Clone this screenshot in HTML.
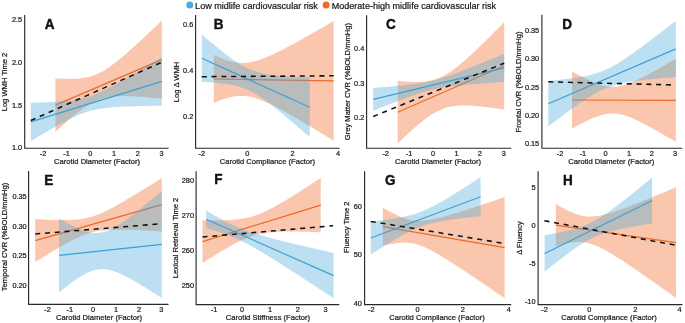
<!DOCTYPE html>
<html><head><meta charset="utf-8"><style>
html,body{margin:0;padding:0;background:#fff;}
body{width:685px;height:323px;overflow:hidden;}
svg{display:block;font-family:"Liberation Sans",sans-serif;filter:blur(0.4px);}
text{stroke:#1a1a1a;stroke-width:0.22px;}
</style></head><body>
<svg width="685" height="323" viewBox="0 0 685 323">
<rect width="685" height="323" fill="#fff"/>
<circle cx="189.8" cy="5.0" r="3.5" fill="rgb(72,170,222)"/>
<text x="195.1" y="8.5" font-size="9.05" fill="#1a1a1a">Low midlife cardiovascular risk</text>
<circle cx="326.1" cy="5.0" r="3.5" fill="rgb(240,105,40)"/>
<text x="331.7" y="8.5" font-size="9.05" fill="#1a1a1a">Moderate-high midlife cardiovascular risk</text>
<g id="pA"><path d="M55.40,78.40 L57.20,78.51 L59.01,78.60 L60.81,78.68 L62.61,78.75 L64.42,78.81 L66.22,78.85 L68.02,78.87 L69.83,78.87 L71.63,78.85 L73.43,78.81 L75.24,78.74 L77.04,78.63 L78.84,78.49 L80.65,78.31 L82.45,78.09 L84.25,77.81 L86.06,77.49 L87.86,77.10 L89.66,76.65 L91.47,76.13 L93.27,75.54 L95.07,74.87 L96.88,74.13 L98.68,73.31 L100.48,72.41 L102.29,71.44 L104.09,70.39 L105.89,69.28 L107.70,68.11 L109.50,66.88 L111.31,65.59 L113.11,64.26 L114.91,62.89 L116.72,61.47 L118.52,60.03 L120.32,58.55 L122.13,57.05 L123.93,55.52 L125.73,53.97 L127.54,52.40 L129.34,50.81 L131.14,49.21 L132.95,47.59 L134.75,45.96 L136.55,44.32 L138.36,42.67 L140.16,41.01 L141.96,39.34 L143.77,37.67 L145.57,35.98 L147.37,34.30 L149.18,32.60 L150.98,30.90 L152.78,29.20 L154.59,27.49 L156.39,25.77 L158.19,24.06 L160.00,22.34 L161.80,20.61 L161.80,98.59 L160.00,98.41 L158.19,98.23 L156.39,98.05 L154.59,97.88 L152.78,97.72 L150.98,97.55 L149.18,97.40 L147.37,97.24 L145.57,97.10 L143.77,96.96 L141.96,96.82 L140.16,96.70 L138.36,96.58 L136.55,96.47 L134.75,96.37 L132.95,96.29 L131.14,96.21 L129.34,96.15 L127.54,96.11 L125.73,96.08 L123.93,96.07 L122.13,96.09 L120.32,96.12 L118.52,96.19 L116.72,96.29 L114.91,96.42 L113.11,96.58 L111.31,96.79 L109.50,97.05 L107.70,97.36 L105.89,97.73 L104.09,98.16 L102.29,98.66 L100.48,99.23 L98.68,99.87 L96.88,100.60 L95.07,101.39 L93.27,102.27 L91.47,103.22 L89.66,104.25 L87.86,105.34 L86.06,106.49 L84.25,107.71 L82.45,108.98 L80.65,110.30 L78.84,111.66 L77.04,113.06 L75.24,114.50 L73.43,115.97 L71.63,117.46 L69.83,118.99 L68.02,120.53 L66.22,122.10 L64.42,123.68 L62.61,125.28 L60.81,126.89 L59.01,128.51 L57.20,130.15 L55.40,131.80 Z" fill="rgb(242,107,43)" fill-opacity="0.38"/><line x1="55.4" y1="105.1" x2="161.8" y2="59.6" stroke="#ec6a2c" stroke-width="1.2"/><path d="M30.80,102.74 L33.02,102.69 L35.24,102.64 L37.46,102.58 L39.68,102.52 L41.90,102.45 L44.12,102.37 L46.34,102.29 L48.56,102.20 L50.78,102.10 L53.00,101.99 L55.22,101.87 L57.44,101.74 L59.66,101.59 L61.88,101.42 L64.11,101.23 L66.33,101.02 L68.55,100.79 L70.77,100.52 L72.99,100.22 L75.21,99.88 L77.43,99.49 L79.65,99.05 L81.87,98.56 L84.09,98.01 L86.31,97.39 L88.53,96.71 L90.75,95.97 L92.97,95.16 L95.19,94.29 L97.41,93.36 L99.63,92.39 L101.85,91.36 L104.07,90.30 L106.29,89.20 L108.51,88.07 L110.73,86.91 L112.95,85.73 L115.17,84.53 L117.39,83.31 L119.61,82.07 L121.83,80.82 L124.05,79.56 L126.27,78.29 L128.49,77.01 L130.72,75.72 L132.94,74.42 L135.16,73.12 L137.38,71.81 L139.60,70.50 L141.82,69.18 L144.04,67.86 L146.26,66.53 L148.48,65.20 L150.70,63.87 L152.92,62.53 L155.14,61.20 L157.36,59.85 L159.58,58.51 L161.80,57.17 L161.80,105.63 L159.58,105.66 L157.36,105.69 L155.14,105.72 L152.92,105.76 L150.70,105.80 L148.48,105.84 L146.26,105.88 L144.04,105.93 L141.82,105.98 L139.60,106.03 L137.38,106.09 L135.16,106.15 L132.94,106.22 L130.72,106.30 L128.49,106.38 L126.27,106.48 L124.05,106.58 L121.83,106.69 L119.61,106.81 L117.39,106.95 L115.17,107.10 L112.95,107.27 L110.73,107.46 L108.51,107.68 L106.29,107.92 L104.07,108.19 L101.85,108.50 L99.63,108.85 L97.41,109.25 L95.19,109.70 L92.97,110.20 L90.75,110.77 L88.53,111.39 L86.31,112.09 L84.09,112.85 L81.87,113.67 L79.65,114.55 L77.43,115.48 L75.21,116.47 L72.99,117.50 L70.77,118.57 L68.55,119.67 L66.33,120.81 L64.11,121.97 L61.88,123.16 L59.66,124.36 L57.44,125.59 L55.22,126.83 L53.00,128.08 L50.78,129.34 L48.56,130.62 L46.34,131.90 L44.12,133.19 L41.90,134.49 L39.68,135.79 L37.46,137.10 L35.24,138.42 L33.02,139.74 L30.80,141.06 Z" fill="rgb(70,170,215)" fill-opacity="0.36"/><line x1="30.8" y1="121.9" x2="161.8" y2="81.4" stroke="#3d9fd4" stroke-width="1.2"/><line x1="30.8" y1="120.5" x2="161.8" y2="62.2" stroke="#111" stroke-width="1.55" stroke-dasharray="5 4.8"/><path d="M24.7,15 L24.7,148.25 L168.6,148.25" fill="none" stroke="#2a2a2a" stroke-width="1.15"/><text x="22.2" y="150.00" font-size="7.35" text-anchor="end" fill="#1a1a1a">1.0</text><text x="22.2" y="107.50" font-size="7.35" text-anchor="end" fill="#1a1a1a">1.5</text><text x="22.2" y="64.80" font-size="7.35" text-anchor="end" fill="#1a1a1a">2.0</text><text x="22.2" y="22.20" font-size="7.35" text-anchor="end" fill="#1a1a1a">2.5</text><text x="43" y="156.45" font-size="7.35" text-anchor="middle" fill="#1a1a1a">-2</text><text x="66.5" y="156.45" font-size="7.35" text-anchor="middle" fill="#1a1a1a">-1</text><text x="90.3" y="156.45" font-size="7.35" text-anchor="middle" fill="#1a1a1a">0</text><text x="114" y="156.45" font-size="7.35" text-anchor="middle" fill="#1a1a1a">1</text><text x="137.7" y="156.45" font-size="7.35" text-anchor="middle" fill="#1a1a1a">2</text><text x="161.5" y="156.45" font-size="7.35" text-anchor="middle" fill="#1a1a1a">3</text><text transform="translate(44.70,29.10) scale(1,1.07)" font-size="13.5" font-weight="bold" fill="#111" style="stroke:#111;stroke-width:0.4px">A</text><text transform="translate(7.20,82.00) rotate(-90)" font-size="7.6" text-anchor="middle" fill="#1a1a1a">Log WMH Time 2</text><text x="97.1" y="163.85" font-size="7.6" text-anchor="middle" fill="#1a1a1a">Carotid Diameter (Factor)</text></g>
<g id="pB"><path d="M213.80,54.93 L215.83,55.87 L217.86,56.78 L219.89,57.65 L221.92,58.47 L223.95,59.25 L225.98,59.96 L228.01,60.62 L230.04,61.21 L232.07,61.72 L234.11,62.15 L236.14,62.50 L238.17,62.75 L240.20,62.91 L242.23,62.97 L244.26,62.93 L246.29,62.80 L248.32,62.57 L250.35,62.25 L252.38,61.84 L254.41,61.36 L256.44,60.80 L258.47,60.18 L260.50,59.50 L262.53,58.77 L264.56,57.99 L266.59,57.16 L268.62,56.30 L270.65,55.41 L272.68,54.48 L274.72,53.53 L276.75,52.55 L278.78,51.55 L280.81,50.54 L282.84,49.50 L284.87,48.45 L286.90,47.39 L288.93,46.31 L290.96,45.23 L292.99,44.13 L295.02,43.02 L297.05,41.91 L299.08,40.78 L301.11,39.65 L303.14,38.52 L305.17,37.37 L307.20,36.22 L309.23,35.07 L311.26,33.91 L313.29,32.75 L315.33,31.58 L317.36,30.41 L319.39,29.24 L321.42,28.06 L323.45,26.88 L325.48,25.70 L327.51,24.51 L329.54,23.33 L331.57,22.13 L333.60,20.94 L333.60,140.66 L331.57,139.40 L329.54,138.15 L327.51,136.90 L325.48,135.66 L323.45,134.41 L321.42,133.17 L319.39,131.93 L317.36,130.70 L315.33,129.47 L313.29,128.24 L311.26,127.02 L309.23,125.80 L307.20,124.58 L305.17,123.37 L303.14,122.17 L301.11,120.97 L299.08,119.78 L297.05,118.60 L295.02,117.42 L292.99,116.25 L290.96,115.09 L288.93,113.94 L286.90,112.81 L284.87,111.68 L282.84,110.57 L280.81,109.48 L278.78,108.40 L276.75,107.34 L274.72,106.30 L272.68,105.29 L270.65,104.30 L268.62,103.35 L266.59,102.42 L264.56,101.54 L262.53,100.70 L260.50,99.90 L258.47,99.16 L256.44,98.48 L254.41,97.86 L252.38,97.32 L250.35,96.85 L248.32,96.47 L246.29,96.18 L244.26,95.98 L242.23,95.88 L240.20,95.88 L238.17,95.98 L236.14,96.17 L234.11,96.46 L232.07,96.83 L230.04,97.28 L228.01,97.81 L225.98,98.40 L223.95,99.06 L221.92,99.77 L219.89,100.53 L217.86,101.34 L215.83,102.19 L213.80,103.07 Z" fill="rgb(242,107,43)" fill-opacity="0.38"/><line x1="213.8" y1="79.0" x2="333.6" y2="80.8" stroke="#ec6a2c" stroke-width="1.2"/><path d="M201.80,34.52 L203.63,36.09 L205.46,37.65 L207.29,39.20 L209.12,40.75 L210.94,42.28 L212.77,43.81 L214.60,45.32 L216.43,46.83 L218.26,48.32 L220.09,49.79 L221.92,51.25 L223.75,52.68 L225.57,54.10 L227.40,55.49 L229.23,56.86 L231.06,58.19 L232.89,59.49 L234.72,60.75 L236.55,61.97 L238.38,63.15 L240.21,64.27 L242.03,65.34 L243.86,66.35 L245.69,67.30 L247.52,68.19 L249.35,69.02 L251.18,69.78 L253.01,70.48 L254.84,71.12 L256.66,71.70 L258.49,72.23 L260.32,72.71 L262.15,73.15 L263.98,73.54 L265.81,73.90 L267.64,74.22 L269.47,74.52 L271.29,74.79 L273.12,75.03 L274.95,75.25 L276.78,75.46 L278.61,75.64 L280.44,75.82 L282.27,75.98 L284.10,76.12 L285.93,76.26 L287.75,76.38 L289.58,76.50 L291.41,76.61 L293.24,76.71 L295.07,76.81 L296.90,76.90 L298.73,76.98 L300.56,77.06 L302.38,77.14 L304.21,77.21 L306.04,77.28 L307.87,77.34 L309.70,77.40 L309.70,137.20 L307.87,135.60 L306.04,134.00 L304.21,132.40 L302.38,130.80 L300.56,129.21 L298.73,127.63 L296.90,126.05 L295.07,124.48 L293.24,122.91 L291.41,121.34 L289.58,119.79 L287.75,118.24 L285.93,116.70 L284.10,115.18 L282.27,113.66 L280.44,112.15 L278.61,110.66 L276.78,109.18 L274.95,107.72 L273.12,106.28 L271.29,104.86 L269.47,103.46 L267.64,102.09 L265.81,100.75 L263.98,99.45 L262.15,98.18 L260.32,96.95 L258.49,95.76 L256.66,94.63 L254.84,93.55 L253.01,92.52 L251.18,91.56 L249.35,90.66 L247.52,89.82 L245.69,89.04 L243.86,88.33 L242.03,87.68 L240.21,87.08 L238.38,86.54 L236.55,86.05 L234.72,85.61 L232.89,85.21 L231.06,84.84 L229.23,84.51 L227.40,84.21 L225.57,83.94 L223.75,83.69 L221.92,83.46 L220.09,83.25 L218.26,83.06 L216.43,82.89 L214.60,82.73 L212.77,82.58 L210.94,82.44 L209.12,82.31 L207.29,82.19 L205.46,82.08 L203.63,81.98 L201.80,81.88 Z" fill="rgb(70,170,215)" fill-opacity="0.36"/><line x1="201.8" y1="58.2" x2="309.7" y2="107.3" stroke="#3d9fd4" stroke-width="1.2"/><line x1="201.8" y1="76.7" x2="333.6" y2="75.8" stroke="#111" stroke-width="1.55" stroke-dasharray="5 4.8"/><path d="M195.6,14.9 L195.6,148.25 L339.7,148.25" fill="none" stroke="#2a2a2a" stroke-width="1.15"/><text x="193.3" y="118.80" font-size="7.35" text-anchor="end" fill="#1a1a1a">0.2</text><text x="193.3" y="73.10" font-size="7.35" text-anchor="end" fill="#1a1a1a">0.4</text><text x="193.3" y="27.40" font-size="7.35" text-anchor="end" fill="#1a1a1a">0.6</text><text x="201.8" y="156.45" font-size="7.35" text-anchor="middle" fill="#1a1a1a">-2</text><text x="247.2" y="156.45" font-size="7.35" text-anchor="middle" fill="#1a1a1a">0</text><text x="292.5" y="156.45" font-size="7.35" text-anchor="middle" fill="#1a1a1a">2</text><text x="338" y="156.45" font-size="7.35" text-anchor="middle" fill="#1a1a1a">4</text><text transform="translate(213.70,29.10) scale(1,1.07)" font-size="13.5" font-weight="bold" fill="#111" style="stroke:#111;stroke-width:0.4px">B</text><text transform="translate(178.70,82.00) rotate(-90)" font-size="7.6" text-anchor="middle" fill="#1a1a1a">Log Δ WMH</text><text x="267.4" y="163.85" font-size="7.6" text-anchor="middle" fill="#1a1a1a">Carotid Compliance (Factor)</text></g>
<g id="pC"><path d="M397.70,80.84 L399.51,81.02 L401.31,81.19 L403.12,81.35 L404.92,81.49 L406.73,81.62 L408.53,81.73 L410.34,81.81 L412.14,81.88 L413.95,81.92 L415.75,81.93 L417.56,81.91 L419.36,81.86 L421.17,81.77 L422.97,81.63 L424.78,81.46 L426.58,81.23 L428.39,80.94 L430.19,80.59 L432.00,80.18 L433.80,79.70 L435.61,79.15 L437.41,78.52 L439.22,77.81 L441.02,77.02 L442.83,76.15 L444.63,75.21 L446.44,74.19 L448.24,73.09 L450.05,71.92 L451.85,70.69 L453.66,69.40 L455.46,68.06 L457.27,66.66 L459.07,65.22 L460.88,63.73 L462.68,62.21 L464.49,60.66 L466.29,59.07 L468.10,57.46 L469.90,55.82 L471.71,54.16 L473.51,52.47 L475.32,50.77 L477.12,49.06 L478.93,47.33 L480.73,45.58 L482.54,43.83 L484.34,42.06 L486.15,40.28 L487.95,38.49 L489.76,36.70 L491.56,34.89 L493.37,33.08 L495.17,31.27 L496.98,29.44 L498.78,27.61 L500.59,25.78 L502.39,23.94 L504.20,22.10 L504.20,109.50 L502.39,109.23 L500.59,108.97 L498.78,108.71 L496.98,108.45 L495.17,108.20 L493.37,107.95 L491.56,107.72 L489.76,107.49 L487.95,107.26 L486.15,107.05 L484.34,106.84 L482.54,106.65 L480.73,106.46 L478.93,106.29 L477.12,106.13 L475.32,105.99 L473.51,105.86 L471.71,105.76 L469.90,105.67 L468.10,105.60 L466.29,105.56 L464.49,105.55 L462.68,105.56 L460.88,105.61 L459.07,105.70 L457.27,105.83 L455.46,106.01 L453.66,106.24 L451.85,106.52 L450.05,106.86 L448.24,107.27 L446.44,107.75 L444.63,108.30 L442.83,108.92 L441.02,109.63 L439.22,110.41 L437.41,111.28 L435.61,112.22 L433.80,113.24 L432.00,114.33 L430.19,115.49 L428.39,116.72 L426.58,118.01 L424.78,119.35 L422.97,120.75 L421.17,122.19 L419.36,123.67 L417.56,125.19 L415.75,126.74 L413.95,128.33 L412.14,129.94 L410.34,131.58 L408.53,133.24 L406.73,134.92 L404.92,136.62 L403.12,138.33 L401.31,140.06 L399.51,141.81 L397.70,143.56 Z" fill="rgb(242,107,43)" fill-opacity="0.38"/><line x1="397.7" y1="112.2" x2="504.2" y2="65.8" stroke="#ec6a2c" stroke-width="1.2"/><path d="M373.20,87.83 L375.42,87.67 L377.64,87.51 L379.86,87.34 L382.08,87.17 L384.30,87.00 L386.52,86.82 L388.74,86.64 L390.96,86.46 L393.18,86.27 L395.40,86.07 L397.62,85.87 L399.84,85.66 L402.06,85.45 L404.28,85.22 L406.51,84.98 L408.73,84.73 L410.95,84.46 L413.17,84.18 L415.39,83.88 L417.61,83.56 L419.83,83.21 L422.05,82.84 L424.27,82.44 L426.49,82.00 L428.71,81.53 L430.93,81.03 L433.15,80.49 L435.37,79.91 L437.59,79.29 L439.81,78.65 L442.03,77.97 L444.25,77.26 L446.47,76.53 L448.69,75.77 L450.91,75.00 L453.13,74.20 L455.35,73.40 L457.57,72.57 L459.79,71.74 L462.01,70.89 L464.23,70.04 L466.45,69.18 L468.67,68.31 L470.89,67.43 L473.12,66.55 L475.34,65.67 L477.56,64.78 L479.78,63.88 L482.00,62.99 L484.22,62.09 L486.44,61.18 L488.66,60.28 L490.88,59.37 L493.10,58.46 L495.32,57.55 L497.54,56.64 L499.76,55.72 L501.98,54.80 L504.20,53.89 L504.20,81.91 L501.98,82.06 L499.76,82.21 L497.54,82.37 L495.32,82.52 L493.10,82.68 L490.88,82.84 L488.66,83.00 L486.44,83.16 L484.22,83.32 L482.00,83.49 L479.78,83.66 L477.56,83.84 L475.34,84.01 L473.12,84.20 L470.89,84.38 L468.67,84.58 L466.45,84.78 L464.23,84.98 L462.01,85.19 L459.79,85.42 L457.57,85.65 L455.35,85.90 L453.13,86.15 L450.91,86.43 L448.69,86.72 L446.47,87.03 L444.25,87.37 L442.03,87.73 L439.81,88.12 L437.59,88.54 L435.37,88.99 L433.15,89.48 L430.93,90.01 L428.71,90.57 L426.49,91.17 L424.27,91.80 L422.05,92.47 L419.83,93.16 L417.61,93.88 L415.39,94.63 L413.17,95.40 L410.95,96.18 L408.73,96.99 L406.51,97.80 L404.28,98.63 L402.06,99.47 L399.84,100.32 L397.62,101.18 L395.40,102.05 L393.18,102.92 L390.96,103.80 L388.74,104.68 L386.52,105.57 L384.30,106.46 L382.08,107.36 L379.86,108.26 L377.64,109.16 L375.42,110.06 L373.20,110.97 Z" fill="rgb(70,170,215)" fill-opacity="0.36"/><line x1="373.2" y1="99.4" x2="504.2" y2="67.9" stroke="#3d9fd4" stroke-width="1.2"/><line x1="373.2" y1="116.5" x2="504.2" y2="63.2" stroke="#111" stroke-width="1.55" stroke-dasharray="5 4.8"/><path d="M366.6,15.2 L366.6,148.25 L511.3,148.25" fill="none" stroke="#2a2a2a" stroke-width="1.15"/><text x="364.3" y="119.70" font-size="7.35" text-anchor="end" fill="#1a1a1a">0.2</text><text x="364.3" y="85.70" font-size="7.35" text-anchor="end" fill="#1a1a1a">0.3</text><text x="364.3" y="51.40" font-size="7.35" text-anchor="end" fill="#1a1a1a">0.4</text><text x="385.7" y="156.45" font-size="7.35" text-anchor="middle" fill="#1a1a1a">-2</text><text x="409.1" y="156.45" font-size="7.35" text-anchor="middle" fill="#1a1a1a">-1</text><text x="433.1" y="156.45" font-size="7.35" text-anchor="middle" fill="#1a1a1a">0</text><text x="456.5" y="156.45" font-size="7.35" text-anchor="middle" fill="#1a1a1a">1</text><text x="479.9" y="156.45" font-size="7.35" text-anchor="middle" fill="#1a1a1a">2</text><text x="503.7" y="156.45" font-size="7.35" text-anchor="middle" fill="#1a1a1a">3</text><text transform="translate(386.00,29.10) scale(1,1.07)" font-size="13.5" font-weight="bold" fill="#111" style="stroke:#111;stroke-width:0.4px">C</text><text transform="translate(349.70,81.60) rotate(-90)" font-size="7.6" text-anchor="middle" fill="#1a1a1a">Grey Matter CVR (%BOLD/mmHg)</text><text x="438" y="163.85" font-size="7.6" text-anchor="middle" fill="#1a1a1a">Carotid Diameter (Factor)</text></g>
<g id="pD"><path d="M572.00,71.41 L573.76,72.38 L575.52,73.35 L577.28,74.30 L579.04,75.23 L580.80,76.16 L582.56,77.07 L584.32,77.96 L586.07,78.83 L587.83,79.68 L589.59,80.50 L591.35,81.30 L593.11,82.06 L594.87,82.79 L596.63,83.48 L598.39,84.12 L600.15,84.71 L601.91,85.23 L603.67,85.70 L605.43,86.09 L607.19,86.41 L608.95,86.64 L610.71,86.79 L612.46,86.85 L614.22,86.82 L615.98,86.70 L617.74,86.49 L619.50,86.19 L621.26,85.82 L623.02,85.38 L624.78,84.87 L626.54,84.30 L628.30,83.68 L630.06,83.01 L631.82,82.30 L633.58,81.56 L635.34,80.78 L637.09,79.97 L638.85,79.13 L640.61,78.27 L642.37,77.40 L644.13,76.50 L645.89,75.59 L647.65,74.66 L649.41,73.72 L651.17,72.77 L652.93,71.81 L654.69,70.84 L656.45,69.87 L658.21,68.88 L659.97,67.89 L661.73,66.89 L663.48,65.89 L665.24,64.88 L667.00,63.86 L668.76,62.84 L670.52,61.82 L672.28,60.79 L674.04,59.76 L675.80,58.73 L675.80,141.87 L674.04,140.83 L672.28,139.79 L670.52,138.75 L668.76,137.72 L667.00,136.69 L665.24,135.66 L663.48,134.64 L661.73,133.63 L659.97,132.62 L658.21,131.62 L656.45,130.62 L654.69,129.63 L652.93,128.65 L651.17,127.68 L649.41,126.72 L647.65,125.78 L645.89,124.84 L644.13,123.92 L642.37,123.01 L640.61,122.12 L638.85,121.26 L637.09,120.41 L635.34,119.59 L633.58,118.80 L631.82,118.04 L630.06,117.32 L628.30,116.64 L626.54,116.01 L624.78,115.43 L623.02,114.91 L621.26,114.46 L619.50,114.08 L617.74,113.78 L615.98,113.56 L614.22,113.43 L612.46,113.38 L610.71,113.43 L608.95,113.57 L607.19,113.79 L605.43,114.10 L603.67,114.48 L601.91,114.94 L600.15,115.46 L598.39,116.03 L596.63,116.66 L594.87,117.34 L593.11,118.06 L591.35,118.81 L589.59,119.60 L587.83,120.41 L586.07,121.25 L584.32,122.11 L582.56,122.99 L580.80,123.89 L579.04,124.81 L577.28,125.73 L575.52,126.67 L573.76,127.63 L572.00,128.59 Z" fill="rgb(242,107,43)" fill-opacity="0.38"/><line x1="572.0" y1="100.0" x2="675.8" y2="100.3" stroke="#ec6a2c" stroke-width="1.2"/><path d="M548.30,80.87 L550.46,80.67 L552.62,80.46 L554.78,80.26 L556.94,80.04 L559.11,79.82 L561.27,79.59 L563.43,79.35 L565.59,79.10 L567.75,78.84 L569.91,78.57 L572.07,78.28 L574.23,77.98 L576.39,77.66 L578.55,77.32 L580.72,76.96 L582.88,76.57 L585.04,76.14 L587.20,75.69 L589.36,75.20 L591.52,74.66 L593.68,74.07 L595.84,73.43 L598.00,72.73 L600.16,71.97 L602.33,71.14 L604.49,70.24 L606.65,69.28 L608.81,68.24 L610.97,67.14 L613.13,65.98 L615.29,64.76 L617.45,63.49 L619.61,62.16 L621.77,60.80 L623.94,59.39 L626.10,57.95 L628.26,56.48 L630.42,54.99 L632.58,53.47 L634.74,51.93 L636.90,50.37 L639.06,48.80 L641.22,47.22 L643.38,45.62 L645.55,44.01 L647.71,42.39 L649.87,40.76 L652.03,39.12 L654.19,37.48 L656.35,35.83 L658.51,34.18 L660.67,32.52 L662.83,30.85 L664.99,29.18 L667.16,27.51 L669.32,25.83 L671.48,24.15 L673.64,22.47 L675.80,20.79 L675.80,77.01 L673.64,77.19 L671.48,77.36 L669.32,77.54 L667.16,77.72 L664.99,77.91 L662.83,78.09 L660.67,78.29 L658.51,78.49 L656.35,78.69 L654.19,78.90 L652.03,79.11 L649.87,79.33 L647.71,79.56 L645.55,79.80 L643.38,80.05 L641.22,80.31 L639.06,80.58 L636.90,80.86 L634.74,81.16 L632.58,81.48 L630.42,81.82 L628.26,82.18 L626.10,82.57 L623.94,82.99 L621.77,83.44 L619.61,83.94 L617.45,84.47 L615.29,85.05 L613.13,85.69 L610.97,86.38 L608.81,87.14 L606.65,87.96 L604.49,88.86 L602.33,89.82 L600.16,90.85 L598.00,91.94 L595.84,93.10 L593.68,94.32 L591.52,95.59 L589.36,96.91 L587.20,98.27 L585.04,99.68 L582.88,101.11 L580.72,102.58 L578.55,104.07 L576.39,105.59 L574.23,107.13 L572.07,108.68 L569.91,110.25 L567.75,111.84 L565.59,113.44 L563.43,115.05 L561.27,116.67 L559.11,118.29 L556.94,119.93 L554.78,121.57 L552.62,123.22 L550.46,124.87 L548.30,126.53 Z" fill="rgb(70,170,215)" fill-opacity="0.36"/><line x1="548.3" y1="103.7" x2="675.8" y2="48.9" stroke="#3d9fd4" stroke-width="1.2"/><line x1="548.3" y1="81.8" x2="675.8" y2="85" stroke="#111" stroke-width="1.55" stroke-dasharray="5 4.8"/><path d="M541.9,14.8 L541.9,148.25 L682.3,148.25" fill="none" stroke="#2a2a2a" stroke-width="1.15"/><text x="539.2" y="145.80" font-size="7.35" text-anchor="end" fill="#1a1a1a">0.15</text><text x="539.2" y="117.90" font-size="7.35" text-anchor="end" fill="#1a1a1a">0.20</text><text x="539.2" y="89.50" font-size="7.35" text-anchor="end" fill="#1a1a1a">0.25</text><text x="539.2" y="60.80" font-size="7.35" text-anchor="end" fill="#1a1a1a">0.30</text><text x="539.2" y="32.80" font-size="7.35" text-anchor="end" fill="#1a1a1a">0.35</text><text x="560" y="156.45" font-size="7.35" text-anchor="middle" fill="#1a1a1a">-2</text><text x="582.9" y="156.45" font-size="7.35" text-anchor="middle" fill="#1a1a1a">-1</text><text x="605.6" y="156.45" font-size="7.35" text-anchor="middle" fill="#1a1a1a">0</text><text x="629" y="156.45" font-size="7.35" text-anchor="middle" fill="#1a1a1a">1</text><text x="651.9" y="156.45" font-size="7.35" text-anchor="middle" fill="#1a1a1a">2</text><text x="675" y="156.45" font-size="7.35" text-anchor="middle" fill="#1a1a1a">3</text><text transform="translate(562.20,29.10) scale(1,1.07)" font-size="13.5" font-weight="bold" fill="#111" style="stroke:#111;stroke-width:0.4px">D</text><text transform="translate(521.10,82.00) rotate(-90)" font-size="7.6" text-anchor="middle" fill="#1a1a1a">Frontal CVR (%BOLD/mmHg)</text><text x="611.3" y="163.85" font-size="7.6" text-anchor="middle" fill="#1a1a1a">Carotid Diameter (Factor)</text></g>
<g id="pE"><path d="M35.20,219.16 L37.35,219.27 L39.49,219.37 L41.64,219.47 L43.78,219.56 L45.93,219.65 L48.07,219.74 L50.22,219.81 L52.37,219.88 L54.51,219.94 L56.66,219.98 L58.80,220.02 L60.95,220.04 L63.09,220.05 L65.24,220.04 L67.39,220.01 L69.53,219.95 L71.68,219.87 L73.82,219.75 L75.97,219.60 L78.12,219.40 L80.26,219.16 L82.41,218.86 L84.55,218.50 L86.70,218.06 L88.84,217.56 L90.99,216.98 L93.14,216.33 L95.28,215.60 L97.43,214.80 L99.57,213.93 L101.72,213.01 L103.86,212.03 L106.01,211.00 L108.16,209.92 L110.30,208.82 L112.45,207.68 L114.59,206.51 L116.74,205.32 L118.88,204.11 L121.03,202.88 L123.18,201.64 L125.32,200.39 L127.47,199.12 L129.61,197.84 L131.76,196.55 L133.91,195.26 L136.05,193.96 L138.20,192.65 L140.34,191.34 L142.49,190.02 L144.63,188.70 L146.78,187.38 L148.93,186.05 L151.07,184.71 L153.22,183.38 L155.36,182.04 L157.51,180.70 L159.65,179.36 L161.80,178.01 L161.80,231.39 L159.65,231.26 L157.51,231.13 L155.36,231.01 L153.22,230.89 L151.07,230.77 L148.93,230.65 L146.78,230.54 L144.63,230.43 L142.49,230.33 L140.34,230.23 L138.20,230.13 L136.05,230.04 L133.91,229.96 L131.76,229.88 L129.61,229.81 L127.47,229.75 L125.32,229.70 L123.18,229.66 L121.03,229.64 L118.88,229.63 L116.74,229.64 L114.59,229.66 L112.45,229.71 L110.30,229.79 L108.16,229.90 L106.01,230.05 L103.86,230.23 L101.72,230.47 L99.57,230.76 L97.43,231.11 L95.28,231.52 L93.14,232.01 L90.99,232.57 L88.84,233.21 L86.70,233.93 L84.55,234.71 L82.41,235.57 L80.26,236.49 L78.12,237.46 L75.97,238.48 L73.82,239.54 L71.68,240.64 L69.53,241.78 L67.39,242.94 L65.24,244.12 L63.09,245.33 L60.95,246.55 L58.80,247.79 L56.66,249.05 L54.51,250.31 L52.37,251.59 L50.22,252.87 L48.07,254.16 L45.93,255.46 L43.78,256.77 L41.64,258.08 L39.49,259.40 L37.35,260.72 L35.20,262.04 Z" fill="rgb(242,107,43)" fill-opacity="0.38"/><line x1="35.2" y1="240.6" x2="161.8" y2="204.7" stroke="#ec6a2c" stroke-width="1.2"/><path d="M59.00,218.20 L60.74,219.23 L62.48,220.25 L64.23,221.25 L65.97,222.24 L67.71,223.21 L69.45,224.15 L71.20,225.07 L72.94,225.97 L74.68,226.83 L76.42,227.66 L78.17,228.45 L79.91,229.20 L81.65,229.90 L83.39,230.55 L85.14,231.13 L86.88,231.65 L88.62,232.10 L90.36,232.47 L92.11,232.75 L93.85,232.93 L95.59,233.01 L97.33,232.99 L99.07,232.86 L100.82,232.63 L102.56,232.28 L104.30,231.84 L106.04,231.29 L107.79,230.64 L109.53,229.91 L111.27,229.10 L113.01,228.21 L114.76,227.26 L116.50,226.25 L118.24,225.18 L119.98,224.06 L121.73,222.90 L123.47,221.71 L125.21,220.47 L126.95,219.21 L128.69,217.92 L130.44,216.61 L132.18,215.28 L133.92,213.92 L135.66,212.55 L137.41,211.16 L139.15,209.76 L140.89,208.35 L142.63,206.92 L144.38,205.48 L146.12,204.04 L147.86,202.58 L149.60,201.12 L151.35,199.65 L153.09,198.17 L154.83,196.69 L156.57,195.20 L158.32,193.70 L160.06,192.20 L161.80,190.70 L161.80,298.10 L160.06,296.97 L158.32,295.84 L156.57,294.71 L154.83,293.59 L153.09,292.48 L151.35,291.37 L149.60,290.27 L147.86,289.17 L146.12,288.09 L144.38,287.01 L142.63,285.94 L140.89,284.89 L139.15,283.84 L137.41,282.81 L135.66,281.79 L133.92,280.79 L132.18,279.81 L130.44,278.84 L128.69,277.90 L126.95,276.98 L125.21,276.08 L123.47,275.22 L121.73,274.39 L119.98,273.61 L118.24,272.86 L116.50,272.16 L114.76,271.52 L113.01,270.93 L111.27,270.41 L109.53,269.97 L107.79,269.61 L106.04,269.34 L104.30,269.16 L102.56,269.08 L100.82,269.10 L99.07,269.24 L97.33,269.48 L95.59,269.83 L93.85,270.28 L92.11,270.83 L90.36,271.48 L88.62,272.22 L86.88,273.03 L85.14,273.92 L83.39,274.88 L81.65,275.90 L79.91,276.97 L78.17,278.09 L76.42,279.25 L74.68,280.45 L72.94,281.68 L71.20,282.94 L69.45,284.23 L67.71,285.55 L65.97,286.88 L64.23,288.24 L62.48,289.61 L60.74,291.00 L59.00,292.40 Z" fill="rgb(70,170,215)" fill-opacity="0.36"/><line x1="59.0" y1="255.3" x2="161.8" y2="244.4" stroke="#3d9fd4" stroke-width="1.2"/><line x1="35.2" y1="234" x2="161.8" y2="223.7" stroke="#111" stroke-width="1.55" stroke-dasharray="5 4.8"/><path d="M28.6,171.1 L28.6,304.4 L168.5,304.4" fill="none" stroke="#2a2a2a" stroke-width="1.15"/><text x="26.7" y="287.80" font-size="7.35" text-anchor="end" fill="#1a1a1a">0.20</text><text x="26.7" y="258.40" font-size="7.35" text-anchor="end" fill="#1a1a1a">0.25</text><text x="26.7" y="228.60" font-size="7.35" text-anchor="end" fill="#1a1a1a">0.30</text><text x="26.7" y="198.90" font-size="7.35" text-anchor="end" fill="#1a1a1a">0.35</text><text x="47.5" y="311.80" font-size="7.35" text-anchor="middle" fill="#1a1a1a">-2</text><text x="69.8" y="311.80" font-size="7.35" text-anchor="middle" fill="#1a1a1a">-1</text><text x="93" y="311.80" font-size="7.35" text-anchor="middle" fill="#1a1a1a">0</text><text x="116" y="311.80" font-size="7.35" text-anchor="middle" fill="#1a1a1a">1</text><text x="139" y="311.80" font-size="7.35" text-anchor="middle" fill="#1a1a1a">2</text><text x="161.3" y="311.80" font-size="7.35" text-anchor="middle" fill="#1a1a1a">3</text><text transform="translate(44.30,184.90) scale(1,1.07)" font-size="13.5" font-weight="bold" fill="#111" style="stroke:#111;stroke-width:0.4px">E</text><text transform="translate(7.00,237.00) rotate(-90)" font-size="7.6" text-anchor="middle" fill="#1a1a1a">Temporal CVR (%BOLD/mmHg)</text><text x="99" y="320.00" font-size="7.6" text-anchor="middle" fill="#1a1a1a">Carotid Diameter (Factor)</text></g>
<g id="pF"><path d="M202.50,220.10 L204.50,220.15 L206.51,220.19 L208.51,220.23 L210.51,220.26 L212.52,220.28 L214.52,220.29 L216.52,220.29 L218.53,220.28 L220.53,220.26 L222.53,220.23 L224.54,220.17 L226.54,220.10 L228.54,220.02 L230.55,219.90 L232.55,219.77 L234.55,219.60 L236.56,219.41 L238.56,219.18 L240.56,218.91 L242.57,218.60 L244.57,218.25 L246.57,217.84 L248.58,217.39 L250.58,216.88 L252.58,216.31 L254.59,215.68 L256.59,215.00 L258.59,214.26 L260.60,213.46 L262.60,212.61 L264.61,211.72 L266.61,210.78 L268.61,209.80 L270.62,208.78 L272.62,207.73 L274.62,206.65 L276.63,205.54 L278.63,204.41 L280.63,203.25 L282.64,202.08 L284.64,200.89 L286.64,199.68 L288.65,198.46 L290.65,197.23 L292.65,195.99 L294.66,194.74 L296.66,193.48 L298.66,192.21 L300.67,190.93 L302.67,189.65 L304.67,188.36 L306.68,187.07 L308.68,185.77 L310.68,184.47 L312.69,183.16 L314.69,181.85 L316.69,180.54 L318.70,179.22 L320.70,177.90 L320.70,232.30 L318.70,232.22 L316.69,232.14 L314.69,232.06 L312.69,231.99 L310.68,231.92 L308.68,231.85 L306.68,231.79 L304.67,231.73 L302.67,231.68 L300.67,231.64 L298.66,231.60 L296.66,231.57 L294.66,231.55 L292.65,231.53 L290.65,231.53 L288.65,231.53 L286.64,231.55 L284.64,231.58 L282.64,231.63 L280.63,231.69 L278.63,231.78 L276.63,231.88 L274.62,232.01 L272.62,232.17 L270.62,232.35 L268.61,232.57 L266.61,232.83 L264.61,233.13 L262.60,233.47 L260.60,233.86 L258.59,234.30 L256.59,234.80 L254.59,235.35 L252.58,235.96 L250.58,236.63 L248.58,237.35 L246.57,238.14 L244.57,238.97 L242.57,239.85 L240.56,240.78 L238.56,241.75 L236.56,242.76 L234.55,243.80 L232.55,244.87 L230.55,245.97 L228.54,247.10 L226.54,248.25 L224.54,249.42 L222.53,250.60 L220.53,251.80 L218.53,253.02 L216.52,254.25 L214.52,255.49 L212.52,256.73 L210.51,257.99 L208.51,259.26 L206.51,260.53 L204.50,261.81 L202.50,263.10 Z" fill="rgb(242,107,43)" fill-opacity="0.38"/><line x1="202.5" y1="241.6" x2="320.7" y2="205.1" stroke="#ec6a2c" stroke-width="1.2"/><path d="M206.20,210.40 L208.36,211.71 L210.52,213.00 L212.68,214.28 L214.84,215.55 L217.00,216.79 L219.16,218.01 L221.32,219.21 L223.47,220.38 L225.63,221.53 L227.79,222.64 L229.95,223.72 L232.11,224.76 L234.27,225.76 L236.43,226.73 L238.59,227.65 L240.75,228.54 L242.91,229.39 L245.07,230.20 L247.23,230.99 L249.39,231.74 L251.55,232.46 L253.71,233.16 L255.86,233.83 L258.02,234.49 L260.18,235.12 L262.34,235.75 L264.50,236.35 L266.66,236.95 L268.82,237.53 L270.98,238.11 L273.14,238.67 L275.30,239.23 L277.46,239.78 L279.62,240.33 L281.78,240.87 L283.94,241.40 L286.09,241.93 L288.25,242.46 L290.41,242.98 L292.57,243.50 L294.73,244.02 L296.89,244.53 L299.05,245.04 L301.21,245.55 L303.37,246.06 L305.53,246.56 L307.69,247.06 L309.85,247.57 L312.01,248.07 L314.17,248.56 L316.33,249.06 L318.48,249.56 L320.64,250.05 L322.80,250.54 L324.96,251.04 L327.12,251.53 L329.28,252.02 L331.44,252.51 L333.60,253.00 L333.60,298.20 L331.44,296.78 L329.28,295.36 L327.12,293.95 L324.96,292.53 L322.80,291.11 L320.64,289.70 L318.48,288.28 L316.33,286.87 L314.17,285.46 L312.01,284.05 L309.85,282.64 L307.69,281.23 L305.53,279.83 L303.37,278.42 L301.21,277.02 L299.05,275.62 L296.89,274.23 L294.73,272.83 L292.57,271.44 L290.41,270.05 L288.25,268.66 L286.09,267.28 L283.94,265.90 L281.78,264.53 L279.62,263.16 L277.46,261.80 L275.30,260.44 L273.14,259.09 L270.98,257.75 L268.82,256.41 L266.66,255.09 L264.50,253.78 L262.34,252.47 L260.18,251.19 L258.02,249.92 L255.86,248.66 L253.71,247.43 L251.55,246.22 L249.39,245.03 L247.23,243.88 L245.07,242.75 L242.91,241.65 L240.75,240.60 L238.59,239.57 L236.43,238.59 L234.27,237.65 L232.11,236.74 L229.95,235.88 L227.79,235.04 L225.63,234.25 L223.47,233.48 L221.32,232.75 L219.16,232.04 L217.00,231.35 L214.84,230.69 L212.68,230.04 L210.52,229.41 L208.36,228.80 L206.20,228.20 Z" fill="rgb(70,170,215)" fill-opacity="0.36"/><line x1="206.2" y1="219.3" x2="333.6" y2="275.6" stroke="#3d9fd4" stroke-width="1.2"/><line x1="202.5" y1="237" x2="333.1" y2="225.7" stroke="#111" stroke-width="1.55" stroke-dasharray="5 4.8"/><path d="M196.1,171.2 L196.1,304.6 L339.3,304.6" fill="none" stroke="#2a2a2a" stroke-width="1.15"/><text x="194" y="288.40" font-size="7.35" text-anchor="end" fill="#1a1a1a">250</text><text x="194" y="253.00" font-size="7.35" text-anchor="end" fill="#1a1a1a">260</text><text x="194" y="217.70" font-size="7.35" text-anchor="end" fill="#1a1a1a">270</text><text x="194" y="182.80" font-size="7.35" text-anchor="end" fill="#1a1a1a">280</text><text x="214.1" y="312.00" font-size="7.35" text-anchor="middle" fill="#1a1a1a">-1</text><text x="242.1" y="312.00" font-size="7.35" text-anchor="middle" fill="#1a1a1a">0</text><text x="270" y="312.00" font-size="7.35" text-anchor="middle" fill="#1a1a1a">1</text><text x="297.9" y="312.00" font-size="7.35" text-anchor="middle" fill="#1a1a1a">2</text><text x="325.6" y="312.00" font-size="7.35" text-anchor="middle" fill="#1a1a1a">3</text><text transform="translate(214.30,184.40) scale(1,1.07)" font-size="13.5" font-weight="bold" fill="#111" style="stroke:#111;stroke-width:0.4px">F</text><text transform="translate(178.20,238.00) rotate(-90)" font-size="7.6" text-anchor="middle" fill="#1a1a1a">Lexical Retrieval Time 2</text><text x="268" y="320.20" font-size="7.6" text-anchor="middle" fill="#1a1a1a">Carotid Stiffness (Factor)</text></g>
<g id="pG"><path d="M382.80,207.54 L384.86,208.76 L386.93,209.95 L388.99,211.11 L391.06,212.23 L393.12,213.32 L395.19,214.35 L397.25,215.34 L399.32,216.27 L401.38,217.13 L403.44,217.91 L405.51,218.60 L407.57,219.21 L409.64,219.71 L411.70,220.12 L413.77,220.42 L415.83,220.62 L417.89,220.72 L419.96,220.73 L422.02,220.65 L424.09,220.50 L426.15,220.28 L428.22,220.00 L430.28,219.67 L432.35,219.29 L434.41,218.88 L436.47,218.43 L438.54,217.95 L440.60,217.44 L442.67,216.91 L444.73,216.36 L446.80,215.79 L448.86,215.21 L450.93,214.61 L452.99,214.01 L455.05,213.39 L457.12,212.76 L459.18,212.13 L461.25,211.48 L463.31,210.83 L465.38,210.18 L467.44,209.52 L469.51,208.85 L471.57,208.18 L473.63,207.50 L475.70,206.83 L477.76,206.14 L479.83,205.46 L481.89,204.77 L483.96,204.08 L486.02,203.38 L488.08,202.69 L490.15,201.99 L492.21,201.29 L494.28,200.59 L496.34,199.88 L498.41,199.18 L500.47,198.47 L502.54,197.76 L504.60,197.06 L504.60,298.14 L502.54,296.73 L500.47,295.31 L498.41,293.90 L496.34,292.48 L494.28,291.07 L492.21,289.66 L490.15,288.25 L488.08,286.84 L486.02,285.44 L483.96,284.04 L481.89,282.64 L479.83,281.24 L477.76,279.85 L475.70,278.46 L473.63,277.07 L471.57,275.68 L469.51,274.31 L467.44,272.93 L465.38,271.56 L463.31,270.20 L461.25,268.84 L459.18,267.49 L457.12,266.14 L455.05,264.81 L452.99,263.48 L450.93,262.16 L448.86,260.86 L446.80,259.57 L444.73,258.30 L442.67,257.04 L440.60,255.80 L438.54,254.58 L436.47,253.39 L434.41,252.23 L432.35,251.11 L430.28,250.02 L428.22,248.98 L426.15,247.99 L424.09,247.07 L422.02,246.21 L419.96,245.42 L417.89,244.72 L415.83,244.12 L413.77,243.61 L411.70,243.20 L409.64,242.90 L407.57,242.69 L405.51,242.59 L403.44,242.58 L401.38,242.65 L399.32,242.80 L397.25,243.02 L395.19,243.30 L393.12,243.63 L391.06,244.00 L388.99,244.42 L386.93,244.87 L384.86,245.35 L382.80,245.86 Z" fill="rgb(242,107,43)" fill-opacity="0.38"/><line x1="382.8" y1="226.7" x2="504.6" y2="247.6" stroke="#ec6a2c" stroke-width="1.2"/><path d="M370.80,221.50 L372.66,221.29 L374.52,221.09 L376.38,220.87 L378.24,220.65 L380.11,220.43 L381.97,220.20 L383.83,219.96 L385.69,219.72 L387.55,219.46 L389.41,219.20 L391.27,218.93 L393.13,218.64 L394.99,218.35 L396.85,218.04 L398.72,217.71 L400.58,217.36 L402.44,217.00 L404.30,216.61 L406.16,216.20 L408.02,215.76 L409.88,215.29 L411.74,214.78 L413.60,214.24 L415.46,213.67 L417.33,213.05 L419.19,212.39 L421.05,211.70 L422.91,210.96 L424.77,210.18 L426.63,209.35 L428.49,208.50 L430.35,207.60 L432.21,206.67 L434.07,205.72 L435.94,204.73 L437.80,203.72 L439.66,202.69 L441.52,201.64 L443.38,200.56 L445.24,199.48 L447.10,198.37 L448.96,197.26 L450.82,196.13 L452.68,195.00 L454.55,193.85 L456.41,192.69 L458.27,191.53 L460.13,190.36 L461.99,189.19 L463.85,188.01 L465.71,186.82 L467.57,185.63 L469.43,184.44 L471.29,183.24 L473.16,182.04 L475.02,180.83 L476.88,179.62 L478.74,178.41 L480.60,177.20 L480.60,216.20 L478.74,216.39 L476.88,216.58 L475.02,216.77 L473.16,216.96 L471.29,217.16 L469.43,217.36 L467.57,217.57 L465.71,217.78 L463.85,217.99 L461.99,218.21 L460.13,218.44 L458.27,218.67 L456.41,218.91 L454.55,219.15 L452.68,219.40 L450.82,219.67 L448.96,219.94 L447.10,220.23 L445.24,220.52 L443.38,220.84 L441.52,221.16 L439.66,221.51 L437.80,221.88 L435.94,222.27 L434.07,222.68 L432.21,223.13 L430.35,223.60 L428.49,224.10 L426.63,224.65 L424.77,225.22 L422.91,225.84 L421.05,226.50 L419.19,227.21 L417.33,227.95 L415.46,228.73 L413.60,229.56 L411.74,230.42 L409.88,231.31 L408.02,232.24 L406.16,233.20 L404.30,234.19 L402.44,235.20 L400.58,236.24 L398.72,237.29 L396.85,238.36 L394.99,239.45 L393.13,240.56 L391.27,241.67 L389.41,242.80 L387.55,243.94 L385.69,245.08 L383.83,246.24 L381.97,247.40 L380.11,248.57 L378.24,249.75 L376.38,250.93 L374.52,252.11 L372.66,253.31 L370.80,254.50 Z" fill="rgb(70,170,215)" fill-opacity="0.36"/><line x1="370.8" y1="238.0" x2="480.6" y2="196.7" stroke="#3d9fd4" stroke-width="1.2"/><line x1="370.8" y1="221.4" x2="504.6" y2="243.5" stroke="#111" stroke-width="1.55" stroke-dasharray="5 4.8"/><path d="M364.6,171.2 L364.6,304.6 L511.2,304.6" fill="none" stroke="#2a2a2a" stroke-width="1.15"/><text x="361.8" y="305.50" font-size="7.35" text-anchor="end" fill="#1a1a1a">40</text><text x="361.8" y="257.40" font-size="7.35" text-anchor="end" fill="#1a1a1a">50</text><text x="361.8" y="208.80" font-size="7.35" text-anchor="end" fill="#1a1a1a">60</text><text x="371.3" y="312.00" font-size="7.35" text-anchor="middle" fill="#1a1a1a">-2</text><text x="417.6" y="312.00" font-size="7.35" text-anchor="middle" fill="#1a1a1a">0</text><text x="462.9" y="312.00" font-size="7.35" text-anchor="middle" fill="#1a1a1a">2</text><text x="508.7" y="312.00" font-size="7.35" text-anchor="middle" fill="#1a1a1a">4</text><text transform="translate(385.00,184.90) scale(1,1.07)" font-size="13.5" font-weight="bold" fill="#111" style="stroke:#111;stroke-width:0.4px">G</text><text transform="translate(349.00,227.20) rotate(-90)" font-size="7.6" text-anchor="middle" fill="#1a1a1a">Fluency Time 2</text><text x="437" y="320.20" font-size="7.6" text-anchor="middle" fill="#1a1a1a">Carotid Compliance (Factor)</text></g>
<g id="pH"><path d="M555.80,203.81 L557.84,205.03 L559.87,206.23 L561.91,207.39 L563.95,208.52 L565.99,209.60 L568.02,210.63 L570.06,211.60 L572.10,212.51 L574.14,213.34 L576.17,214.09 L578.21,214.76 L580.25,215.32 L582.28,215.78 L584.32,216.14 L586.36,216.38 L588.40,216.52 L590.43,216.55 L592.47,216.49 L594.51,216.34 L596.55,216.10 L598.58,215.79 L600.62,215.41 L602.66,214.98 L604.69,214.49 L606.73,213.97 L608.77,213.40 L610.81,212.80 L612.84,212.17 L614.88,211.51 L616.92,210.83 L618.96,210.13 L620.99,209.42 L623.03,208.69 L625.07,207.94 L627.11,207.19 L629.14,206.42 L631.18,205.64 L633.22,204.85 L635.25,204.06 L637.29,203.26 L639.33,202.45 L641.37,201.64 L643.40,200.82 L645.44,199.99 L647.48,199.17 L649.52,198.33 L651.55,197.50 L653.59,196.66 L655.63,195.81 L657.66,194.97 L659.70,194.12 L661.74,193.27 L663.78,192.42 L665.81,191.56 L667.85,190.70 L669.89,189.85 L671.93,188.98 L673.96,188.12 L676.00,187.26 L676.00,297.94 L673.96,296.49 L671.93,295.03 L669.89,293.58 L667.85,292.12 L665.81,290.67 L663.78,289.22 L661.74,287.78 L659.70,286.33 L657.66,284.89 L655.63,283.45 L653.59,282.02 L651.55,280.58 L649.52,279.16 L647.48,277.73 L645.44,276.31 L643.40,274.89 L641.37,273.48 L639.33,272.07 L637.29,270.67 L635.25,269.28 L633.22,267.89 L631.18,266.51 L629.14,265.14 L627.11,263.78 L625.07,262.43 L623.03,261.09 L620.99,259.76 L618.96,258.46 L616.92,257.16 L614.88,255.89 L612.84,254.64 L610.81,253.42 L608.77,252.23 L606.73,251.06 L604.69,249.94 L602.66,248.87 L600.62,247.84 L598.58,246.87 L596.55,245.97 L594.51,245.14 L592.47,244.39 L590.43,243.73 L588.40,243.17 L586.36,242.72 L584.32,242.37 L582.28,242.13 L580.25,242.00 L578.21,241.97 L576.17,242.04 L574.14,242.20 L572.10,242.44 L570.06,242.75 L568.02,243.13 L565.99,243.57 L563.95,244.06 L561.91,244.59 L559.87,245.16 L557.84,245.76 L555.80,246.39 Z" fill="rgb(242,107,43)" fill-opacity="0.38"/><line x1="555.8" y1="225.1" x2="676.0" y2="242.6" stroke="#ec6a2c" stroke-width="1.2"/><path d="M544.60,235.30 L546.42,234.98 L548.24,234.65 L550.07,234.31 L551.89,233.97 L553.71,233.62 L555.53,233.27 L557.35,232.91 L559.18,232.53 L561.00,232.15 L562.82,231.76 L564.64,231.36 L566.46,230.94 L568.29,230.50 L570.11,230.05 L571.93,229.57 L573.75,229.08 L575.57,228.55 L577.40,228.00 L579.22,227.42 L581.04,226.80 L582.86,226.14 L584.68,225.44 L586.51,224.69 L588.33,223.89 L590.15,223.04 L591.97,222.15 L593.79,221.20 L595.62,220.20 L597.44,219.15 L599.26,218.06 L601.08,216.92 L602.91,215.75 L604.73,214.54 L606.55,213.29 L608.37,212.02 L610.19,210.72 L612.02,209.40 L613.84,208.06 L615.66,206.70 L617.48,205.32 L619.30,203.93 L621.13,202.52 L622.95,201.11 L624.77,199.68 L626.59,198.25 L628.41,196.81 L630.24,195.36 L632.06,193.90 L633.88,192.44 L635.70,190.97 L637.52,189.50 L639.35,188.03 L641.17,186.55 L642.99,185.06 L644.81,183.58 L646.63,182.09 L648.46,180.59 L650.28,179.10 L652.10,177.60 L652.10,223.40 L650.28,223.70 L648.46,224.00 L646.63,224.30 L644.81,224.61 L642.99,224.92 L641.17,225.23 L639.35,225.55 L637.52,225.87 L635.70,226.19 L633.88,226.52 L632.06,226.86 L630.24,227.20 L628.41,227.55 L626.59,227.90 L624.77,228.26 L622.95,228.64 L621.13,229.02 L619.30,229.41 L617.48,229.82 L615.66,230.24 L613.84,230.67 L612.02,231.13 L610.19,231.60 L608.37,232.10 L606.55,232.62 L604.73,233.18 L602.91,233.76 L601.08,234.38 L599.26,235.04 L597.44,235.75 L595.62,236.50 L593.79,237.29 L591.97,238.14 L590.15,239.04 L588.33,239.99 L586.51,240.99 L584.68,242.04 L582.86,243.13 L581.04,244.27 L579.22,245.45 L577.40,246.66 L575.57,247.91 L573.75,249.18 L571.93,250.48 L570.11,251.80 L568.29,253.14 L566.46,254.50 L564.64,255.88 L562.82,257.27 L561.00,258.68 L559.18,260.09 L557.35,261.52 L555.53,262.95 L553.71,264.39 L551.89,265.84 L550.07,267.30 L548.24,268.76 L546.42,270.23 L544.60,271.70 Z" fill="rgb(70,170,215)" fill-opacity="0.36"/><line x1="544.6" y1="253.5" x2="652.1" y2="200.5" stroke="#3d9fd4" stroke-width="1.2"/><line x1="544.4" y1="220.7" x2="675.5" y2="245.2" stroke="#111" stroke-width="1.55" stroke-dasharray="5 4.8"/><path d="M538.1,171.2 L538.1,304.6 L682.5,304.6" fill="none" stroke="#2a2a2a" stroke-width="1.15"/><text x="535.5" y="303.60" font-size="7.35" text-anchor="end" fill="#1a1a1a">-10</text><text x="535.5" y="266.10" font-size="7.35" text-anchor="end" fill="#1a1a1a">-5</text><text x="535.5" y="227.60" font-size="7.35" text-anchor="end" fill="#1a1a1a">0</text><text x="535.5" y="190.30" font-size="7.35" text-anchor="end" fill="#1a1a1a">5</text><text x="544.6" y="312.00" font-size="7.35" text-anchor="middle" fill="#1a1a1a">-2</text><text x="589.3" y="312.00" font-size="7.35" text-anchor="middle" fill="#1a1a1a">0</text><text x="635.2" y="312.00" font-size="7.35" text-anchor="middle" fill="#1a1a1a">2</text><text x="679.6" y="312.00" font-size="7.35" text-anchor="middle" fill="#1a1a1a">4</text><text transform="translate(562.90,184.90) scale(1,1.07)" font-size="13.5" font-weight="bold" fill="#111" style="stroke:#111;stroke-width:0.4px">H</text><text transform="translate(521.70,238.00) rotate(-90)" font-size="7.6" text-anchor="middle" fill="#1a1a1a">Δ Fluency</text><text x="609" y="320.20" font-size="7.6" text-anchor="middle" fill="#1a1a1a">Carotid Compliance (Factor)</text></g>
</svg>
</body></html>
